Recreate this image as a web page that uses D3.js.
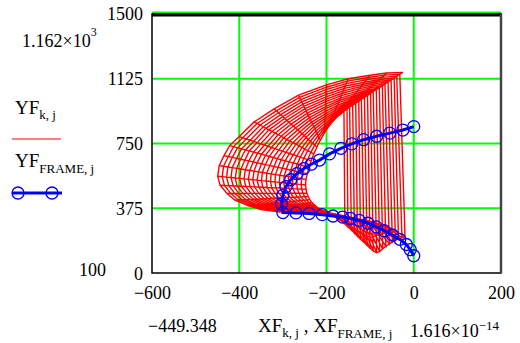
<!DOCTYPE html>
<html>
<head>
<meta charset="utf-8">
<script src="https://cdn.jsdelivr.net/npm/d3@7"></script>
<style>
  html, body { margin: 0; padding: 0; background: #fff; }
  svg { display: block; font-family: "Liberation Serif", "Times New Roman", serif; }
</style>
</head>
<body>
<svg id="chart" width="520" height="343"></svg>
<script>
// axis ticks
const xTicks = [-600, -400, -200, 0, 200];
const yTicks = [0, 375, 750, 1125, 1500];

// Mathcad data-limit readouts
const xMinLabel = '\u2212449.348';
const xMaxLabel = ['1.616\u00d710', '\u221214'];
const yMaxLabel = ['1.162\u00d710', '3'];
const yMinLabel = '100';

// XF[k][j], YF[k][j] stored by j (point along the shell: bottom -> left -> top),
// each row runs over k (inner -> outer shell)
const meshX = [
  [-165, -158, -151, -143, -136, -129, -122, -114, -107, -100, -93, -85, -78, -71, -64, -56, -49, -42, -35, -27, -20],
  [-174, -167, -161, -154, -147, -141, -134, -127, -120, -114, -107, -100, -94, -87, -81, -74, -67, -60, -54, -47, -40],
  [-182, -176, -170, -164, -158, -152, -145, -139, -133, -127, -121, -115, -109, -103, -97, -91, -84, -78, -72, -66, -60],
  [-191, -186, -181, -177, -172, -167, -162, -157, -153, -148, -143, -138, -133, -129, -124, -119, -114, -109, -105, -100, -95],
  [-200, -197, -193, -190, -186, -183, -179, -176, -172, -169, -165, -162, -158, -155, -151, -148, -144, -141, -137, -134, -130],
  [-208, -206, -205, -203, -201, -200, -198, -196, -195, -193, -192, -190, -188, -187, -185, -183, -182, -180, -178, -177, -175],
  [-215, -215, -216, -216, -216, -216, -217, -217, -217, -217, -218, -218, -218, -218, -219, -219, -219, -219, -220, -220, -220],
  [-222, -224, -227, -229, -231, -233, -236, -238, -240, -242, -245, -247, -249, -251, -254, -256, -258, -260, -263, -265, -267],
  [-228, -232, -236, -240, -244, -249, -253, -257, -261, -265, -269, -273, -277, -281, -285, -290, -294, -298, -302, -306, -310],
  [-234, -240, -246, -251, -257, -263, -269, -275, -280, -286, -292, -298, -304, -309, -315, -321, -327, -333, -338, -344, -350],
  [-238, -245, -252, -259, -266, -274, -281, -288, -295, -302, -309, -316, -323, -330, -337, -345, -352, -359, -366, -373, -380],
  [-242, -250, -259, -267, -276, -284, -292, -301, -309, -318, -326, -334, -343, -351, -360, -368, -376, -385, -393, -402, -410],
  [-245, -254, -263, -272, -282, -291, -300, -309, -318, -327, -337, -346, -355, -364, -373, -382, -391, -401, -410, -419, -428],
  [-247, -257, -267, -277, -286, -296, -306, -316, -326, -336, -346, -355, -365, -375, -385, -395, -405, -414, -424, -434, -444],
  [-248, -258, -268, -278, -288, -298, -308, -318, -328, -338, -349, -359, -369, -379, -389, -399, -409, -419, -429, -439, -449.348],
  [-247, -257, -267, -277, -287, -297, -307, -317, -327, -337, -347, -356, -366, -376, -386, -396, -406, -416, -426, -436, -446],
  [-244, -254, -263, -273, -282, -292, -301, -311, -320, -330, -340, -349, -359, -368, -378, -387, -397, -406, -416, -425, -435],
  [-240, -249, -258, -267, -276, -286, -295, -304, -313, -322, -331, -340, -349, -358, -367, -377, -386, -395, -404, -413, -422],
  [-235, -243, -252, -260, -268, -276, -285, -293, -301, -309, -318, -326, -334, -342, -351, -359, -367, -375, -384, -392, -400],
  [-229, -236, -243, -250, -256, -263, -270, -277, -284, -291, -298, -304, -311, -318, -325, -332, -339, -345, -352, -359, -366],
  [-222, -227, -232, -237, -242, -247, -251, -256, -261, -266, -271, -276, -281, -286, -291, -296, -300, -305, -310, -315, -320],
  [-214, -217, -219, -222, -224, -227, -229, -232, -234, -237, -239, -242, -244, -247, -249, -252, -254, -257, -259, -262, -264],
  [-205, -205, -205, -204, -204, -204, -204, -203, -203, -203, -203, -202, -202, -202, -202, -201, -201, -201, -201, -200, -200],
  [-196, -194, -191, -189, -187, -185, -182, -180, -178, -175, -173, -171, -168, -166, -164, -162, -159, -157, -155, -152, -150],
  [-185, -181, -177, -172, -168, -164, -160, -155, -151, -147, -143, -138, -134, -130, -126, -121, -117, -113, -109, -104, -100],
  [-173, -167, -162, -156, -151, -145, -140, -134, -129, -123, -118, -112, -106, -101, -95, -90, -84, -78, -73, -67, -62],
  [-160, -153, -147, -140, -133, -126, -120, -113, -106, -99, -93, -86, -79, -72, -66, -59, -52, -45, -39, -32, -25],
];
const meshY = [
  [300, 285, 268, 250, 232, 214, 196, 178, 160, 143, 128, 118, 125, 140, 155, 168, 180, 190, 198, 205, 210],
  [314, 305, 295, 285, 274, 264, 254, 243, 233, 223, 214, 207, 209, 215, 221, 227, 231, 235, 237, 239, 240],
  [328, 325, 322, 319, 316, 314, 311, 308, 305, 302, 299, 296, 293, 290, 287, 285, 282, 279, 276, 273, 270],
  [339, 337, 335, 333, 330, 328, 326, 324, 322, 320, 318, 315, 313, 311, 309, 307, 305, 302, 300, 298, 296],
  [350, 348, 347, 345, 343, 341, 340, 338, 336, 334, 333, 331, 329, 327, 326, 324, 322, 320, 319, 317, 315],
  [360, 359, 357, 356, 354, 353, 351, 350, 348, 347, 345, 344, 342, 341, 339, 338, 336, 335, 333, 332, 330],
  [370, 369, 367, 366, 364, 363, 361, 360, 358, 357, 355, 354, 352, 351, 349, 348, 346, 345, 343, 342, 340],
  [382, 380, 379, 377, 376, 374, 372, 371, 369, 368, 366, 364, 363, 361, 360, 358, 356, 355, 353, 352, 350],
  [395, 393, 391, 389, 387, 385, 383, 381, 379, 377, 375, 373, 371, 369, 367, 365, 363, 361, 359, 357, 355],
  [409, 407, 405, 403, 401, 399, 397, 395, 393, 391, 388, 386, 384, 382, 380, 378, 376, 374, 372, 370, 368],
  [425, 423, 422, 420, 418, 416, 415, 413, 411, 409, 408, 406, 404, 402, 401, 399, 397, 395, 394, 392, 390],
  [443, 442, 441, 440, 439, 438, 437, 436, 435, 434, 433, 431, 430, 429, 428, 427, 426, 425, 424, 423, 422],
  [462, 462, 462, 462, 462, 462, 461, 461, 461, 461, 461, 461, 461, 461, 461, 461, 460, 460, 460, 460, 460],
  [485, 486, 487, 488, 490, 491, 492, 493, 494, 495, 497, 498, 499, 500, 501, 502, 503, 505, 506, 507, 508],
  [510, 513, 515, 518, 520, 523, 525, 528, 530, 533, 535, 538, 540, 543, 545, 548, 550, 553, 555, 558, 560],
  [542, 546, 550, 554, 558, 562, 566, 570, 574, 578, 582, 586, 590, 594, 598, 602, 606, 610, 614, 618, 622],
  [575, 580, 586, 591, 596, 601, 607, 612, 617, 622, 628, 633, 638, 643, 649, 654, 659, 664, 670, 675, 680],
  [612, 618, 625, 631, 637, 644, 650, 656, 662, 669, 675, 681, 688, 694, 700, 707, 713, 719, 725, 732, 738],
  [650, 657, 664, 671, 678, 685, 692, 699, 706, 713, 720, 727, 734, 741, 748, 755, 762, 769, 776, 783, 790],
  [690, 699, 709, 718, 727, 736, 746, 755, 764, 773, 783, 792, 801, 810, 820, 829, 838, 847, 857, 866, 875],
  [730, 741, 752, 763, 774, 785, 796, 807, 818, 829, 840, 851, 862, 873, 884, 895, 906, 917, 928, 939, 950],
  [770, 783, 796, 809, 822, 835, 848, 861, 874, 887, 900, 913, 926, 939, 952, 965, 978, 991, 1004, 1017, 1030],
  [810, 824, 838, 852, 866, 880, 894, 908, 922, 936, 950, 964, 978, 992, 1006, 1020, 1034, 1048, 1062, 1076, 1090],
  [845, 859, 873, 887, 901, 915, 929, 943, 957, 971, 985, 999, 1013, 1027, 1041, 1055, 1069, 1083, 1097, 1111, 1125],
  [880, 893, 907, 920, 933, 946, 960, 973, 986, 999, 1013, 1026, 1039, 1052, 1066, 1079, 1092, 1105, 1119, 1132, 1145],
  [911, 923, 936, 948, 960, 973, 985, 997, 1010, 1022, 1035, 1047, 1059, 1072, 1084, 1096, 1109, 1121, 1133, 1146, 1158],
  [940, 951, 962, 973, 984, 996, 1007, 1018, 1029, 1040, 1051, 1062, 1073, 1084, 1095, 1107, 1118, 1129, 1140, 1151, 1162],
];

// frame curve, bottom end -> left corner -> top end
const frameX = [0, -8, -17, -32, -49, -68, -86, -105, -125, -145, -163, -185, -210, -240, -270, -300,
  -303, -300, -293, -282, -268, -252, -235, -216, -193, -167, -142, -115, -85, -55, -25, 0];
const frameY = [100, 135, 165, 195, 220, 245, 267, 288, 305, 316, 324, 330, 338, 345, 348, 350,
  400, 450, 500, 540, 575, 605, 630, 654, 690, 722, 748, 772, 792, 810, 828, 848];

const PLOT = { left: 152, right: 501, top: 14, bottom: 273 };
const RED = '#ff0000';
const BLUE = '#0000ff';
const GRID = '#00ff00';

const svg = d3.select('#chart');

const x = d3.scaleLinear().domain([xTicks[0], xTicks[xTicks.length - 1]]).range([PLOT.left, PLOT.right]);
const y = d3.scaleLinear().domain([yTicks[0], yTicks[yTicks.length - 1]]).range([PLOT.bottom, PLOT.top]);

const fmt = d => (d < 0 ? '\u2212' + Math.abs(d) : String(d));
const yTop = yTicks[yTicks.length - 1];

// Grid lines
svg.append('g')
  .selectAll('line')
  .data(xTicks.slice(1, -1))
  .join('line')
  .attr('x1', d => x(d)).attr('x2', d => x(d))
  .attr('y1', PLOT.top).attr('y2', PLOT.bottom)
  .attr('stroke', GRID).attr('stroke-width', 2);

svg.append('g')
  .selectAll('line')
  .data(yTicks.slice(1))
  .join('line')
  .attr('x1', PLOT.left).attr('x2', PLOT.right)
  .attr('y1', d => y(d) - (d === yTop ? 1.5 : 0))
  .attr('y2', d => y(d) - (d === yTop ? 1.5 : 0))
  .attr('stroke', GRID).attr('stroke-width', 2);

const line = d3.line().x(d => x(d[0])).y(d => y(d[1]));
const nK = meshX[0].length;

// Red mesh, shells: one trace, k outer loop, j inner loop (Mathcad order)
const shellPts = [];
for (let k = 0; k < nK; k++) {
  meshX.forEach((row, j) => shellPts.push([row[k], meshY[j][k]]));
}

const redG = svg.append('g')
  .attr('fill', 'none')
  .attr('stroke', RED)
  .attr('stroke-width', 1.4);

redG.append('path')
  .datum(shellPts)
  .attr('d', line);

// cross lines of the mesh (each j over k)
redG.selectAll('.rung')
  .data(meshX.map((row, j) => row.map((v, k) => [v, meshY[j][k]])))
  .join('path')
  .attr('class', 'rung')
  .attr('d', line);

// Blue frame with circle markers
const framePts = frameX.map((v, i) => [v, frameY[i]]);

svg.append('path')
  .datum(framePts)
  .attr('fill', 'none')
  .attr('stroke', BLUE)
  .attr('stroke-width', 3)
  .attr('d', line);

svg.append('g')
  .selectAll('circle')
  .data(framePts)
  .join('circle')
  .attr('cx', d => x(d[0]))
  .attr('cy', d => y(d[1]))
  .attr('r', 6)
  .attr('fill', 'none')
  .attr('stroke', BLUE)
  .attr('stroke-width', 1.3);

// Frame box
svg.append('rect')
  .attr('x', PLOT.left).attr('y', PLOT.top)
  .attr('width', PLOT.right - PLOT.left).attr('height', PLOT.bottom - PLOT.top)
  .attr('fill', 'none').attr('stroke', '#000').attr('stroke-width', 1.5);
svg.append('line')
  .attr('x1', PLOT.left).attr('x2', PLOT.right + 1)
  .attr('y1', PLOT.top + 1).attr('y2', PLOT.top + 1)
  .attr('stroke', '#000').attr('stroke-width', 3);
svg.append('line')
  .attr('x1', PLOT.right).attr('x2', PLOT.right)
  .attr('y1', PLOT.top).attr('y2', PLOT.bottom)
  .attr('stroke', '#444').attr('stroke-width', 2.5);

// Axes (labels only)
const yAxis = svg.append('g')
  .attr('transform', `translate(${PLOT.left},0)`)
  .call(d3.axisLeft(y).tickValues(yTicks).tickSize(0).tickPadding(9).tickFormat(fmt));
yAxis.select('.domain').remove();
yAxis.attr('font-size', 18).attr('font-family', null);
yAxis.selectAll('.tick text').filter(d => d === 0).attr('dy', '0.38em');

const xAxis = svg.append('g')
  .attr('transform', `translate(0,${PLOT.bottom})`)
  .call(d3.axisBottom(x).tickValues(xTicks).tickSize(0).tickPadding(13).tickFormat(fmt));
xAxis.select('.domain').remove();
xAxis.attr('font-size', 18).attr('font-family', null);

// Limit readouts
const yMax = svg.append('text').attr('x', 22).attr('y', 47).attr('font-size', 18);
yMax.append('tspan').text(yMaxLabel[0]);
yMax.append('tspan').attr('font-size', 12).attr('dy', -11).text(yMaxLabel[1]);

svg.append('text')
  .attr('x', 106).attr('y', 276)
  .attr('text-anchor', 'end')
  .attr('font-size', 18)
  .text(yMinLabel);

svg.append('text')
  .attr('x', 148).attr('y', 332)
  .attr('font-size', 18)
  .text(xMinLabel);

const xMax = svg.append('text').attr('x', 410).attr('y', 337).attr('font-size', 18);
xMax.append('tspan').text(xMaxLabel[0]);
xMax.append('tspan').attr('font-size', 13).attr('dy', -7).text(xMaxLabel[1]);

// X axis title: XF k,j , XF FRAME,j
const xTitle = svg.append('text').attr('x', 258).attr('y', 332).attr('font-size', 19);
xTitle.append('tspan').text('XF');
xTitle.append('tspan').attr('font-size', 13).attr('dy', 5).text('k, j');
xTitle.append('tspan').attr('dy', -5).text(' , XF');
xTitle.append('tspan').attr('font-size', 13).attr('dy', 6).text('FRAME, j');

// Legend
const leg1 = svg.append('text').attr('x', 15).attr('y', 114).attr('font-size', 19);
leg1.append('tspan').text('YF');
leg1.append('tspan').attr('font-size', 13).attr('dy', 5).text('k, j');

svg.append('line')
  .attr('x1', 12).attr('x2', 61)
  .attr('y1', 139).attr('y2', 139)
  .attr('stroke', RED).attr('stroke-width', 1.2);

const leg2 = svg.append('text').attr('x', 15).attr('y', 167).attr('font-size', 19);
leg2.append('tspan').text('YF');
leg2.append('tspan').attr('font-size', 13).attr('dy', 6).text('FRAME, j');

svg.append('line')
  .attr('x1', 12).attr('x2', 62)
  .attr('y1', 193).attr('y2', 193)
  .attr('stroke', BLUE).attr('stroke-width', 3);

svg.append('g')
  .selectAll('circle')
  .data([18, 52])
  .join('circle')
  .attr('cx', d => d).attr('cy', 193)
  .attr('r', 6)
  .attr('fill', 'none')
  .attr('stroke', BLUE)
  .attr('stroke-width', 1.3);
</script>
</body>
</html>
